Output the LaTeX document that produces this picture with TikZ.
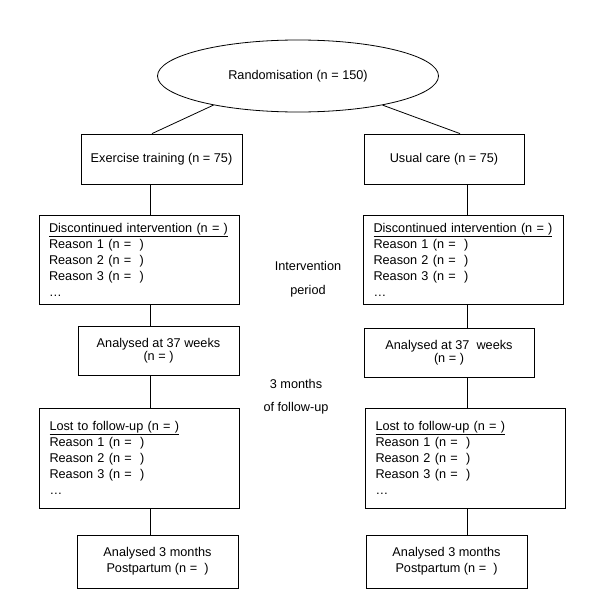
\documentclass[tikz,border=0pt]{standalone}
\usepackage{fontspec}
\setmainfont{Liberation Sans}
\usetikzlibrary{shapes.geometric}
\begin{document}
\begin{tikzpicture}[x=1pt,y=-1pt,
  every node/.style={font=\fontsize{12.7}{16}\selectfont, text=black},
  box/.style={draw, line width=0.8pt, inner sep=0pt, align=center},
  listbox/.style={draw, line width=0.8pt, inner xsep=10pt, inner ysep=0pt, align=left, text width=180pt, minimum height=89pt},
  lostbox/.style={listbox, minimum height=100pt},
  conn/.style={line width=0.8pt},
  lbl/.style={inner sep=0pt}]
\useasboundingbox[fill=white] (0,0) rectangle (600,605);
\coordinate (lx) at (150,0);
\coordinate (rx) at (467,0);
\node[draw, ellipse, line width=0.8pt, minimum width=281pt, minimum height=72pt, inner sep=0pt] (rand) at (298,76) {Randomisation (n = 150)};
\node[box, minimum width=161pt, minimum height=50pt] (ex) at (161.5,159) {Exercise training (n = 75)};
\node[box, minimum width=160pt, minimum height=50pt] (uc) at (444,159) {Usual care (n = 75)};
\node[listbox] (discL) at (139,259.5) {\underline{Discontinued intervention (n = )}\\Reason 1 (n =\ \ )\\Reason 2 (n =\ \ )\\Reason 3 (n =\ \ )\\…};
\node[listbox] (discR) at (463.5,259.5) {\underline{Discontinued intervention (n = )}\\Reason 1 (n =\ \ )\\Reason 2 (n =\ \ )\\Reason 3 (n =\ \ )\\…};
\node[box, minimum width=161pt, minimum height=49pt, font=\fontsize{12.7}{13}\selectfont] (anL) at (158.5,350.5) {Analysed at 37 weeks\\(n = )};
\node[box, minimum width=170pt, minimum height=49pt, font=\fontsize{12.7}{13}\selectfont] (anR) at (449,352.5) {Analysed at 37\ \ weeks\\(n = )};
\node[lostbox] (lostL) at (139.5,458) {\underline{Lost to follow-up (n = )}\\Reason 1 (n =\ \ )\\Reason 2 (n =\ \ )\\Reason 3 (n =\ \ )\\…};
\node[lostbox] (lostR) at (465.5,458) {\underline{Lost to follow-up (n = )}\\Reason 1 (n =\ \ )\\Reason 2 (n =\ \ )\\Reason 3 (n =\ \ )\\…};
\node[box, minimum width=161pt, minimum height=53pt] (fuL) at (157.5,561.5) {Analysed 3 months\\Postpartum (n =\ \ )};
\node[box, minimum width=161pt, minimum height=53pt] (fuR) at (446.5,561.5) {Analysed 3 months\\Postpartum (n =\ \ )};
\node[lbl] (t1) at (308,266) {Intervention};
\node[lbl] (t2) at (308,291) {period};
\node[lbl] (t3) at (296,384) {3 months};
\node[lbl] (t4) at (296,408) {of follow-up};
\draw[conn] (rand.199) -- ([xshift=-9.5pt]ex.north);
\draw[conn] (rand.341) -- ([xshift=16pt]uc.north);
\draw[conn] (ex.south -| lx) -- (discL.north -| lx);
\draw[conn] (discL.south -| lx) -- (anL.north -| lx);
\draw[conn] (anL.south -| lx) -- (lostL.north -| lx);
\draw[conn] (lostL.south -| lx) -- (fuL.north -| lx);
\draw[conn] (uc.south -| rx) -- (discR.north -| rx);
\draw[conn] (discR.south -| rx) -- (anR.north -| rx);
\draw[conn] (anR.south -| rx) -- (lostR.north -| rx);
\draw[conn] (lostR.south -| rx) -- (fuR.north -| rx);
\end{tikzpicture}
\end{document}
